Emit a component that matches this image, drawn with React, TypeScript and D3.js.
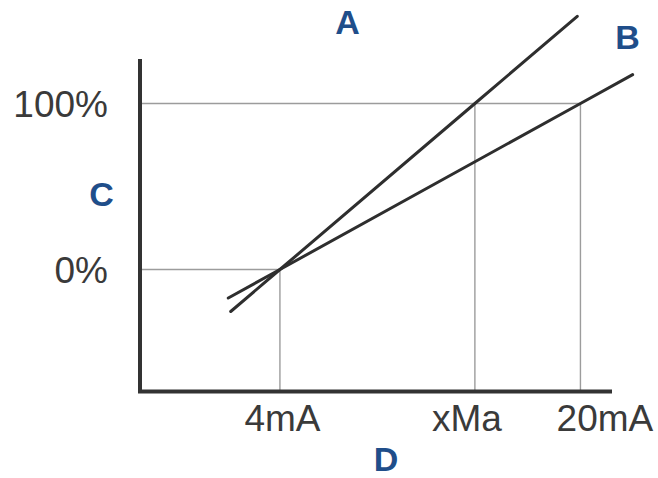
import React from "react";
import * as d3 from "d3";

// Data
const xTickValues = [4, 14.38, 20];
const xTickLabels = ["4mA", "xMa", "20mA"];
const yTickValues = [0, 100];
const yTickLabels = ["0%", "100%"];
const lineA = [
  { x: 1.38, y: -25.3 },
  { x: 4, y: 0 },
  { x: 14.38, y: 100 },
  { x: 19.83, y: 152.5 },
];
const lineB = [
  { x: 1.25, y: -17.2 },
  { x: 4, y: 0 },
  { x: 20, y: 100 },
  { x: 22.78, y: 117.4 },
];
const xDomain = [-3.45, 21.68];
const yDomain = [-73.5, 126.8];

const W = 658;
const H = 478;
const left = 140, right = 612, top = 59, bottom = 391.5;

export default function App() {
  const x = d3.scaleLinear().domain(xDomain).range([left, right]);
  const y = d3.scaleLinear().domain(yDomain).range([bottom, top]);
  const line = d3
    .line<{ x: number; y: number }>()
    .x((d) => x(d.x))
    .y((d) => y(d.y));

  const tickColor = "#3a3a3a";
  const blue = "#1f4e8a";
  const grid = "#9c9c9c";
  const font = "'Liberation Sans', Arial, Helvetica, sans-serif";
  const xNudge = [2.5, -8, 24.5];

  const hGridEnds = [x(4), x(20)];
  const vGridStarts = [y(0), y(100), y(100)];

  return (
    <svg
      width={W}
      height={H}
      style={{ position: "absolute", left: 0, top: 0, background: "#fff" }}
    >
      <rect width={W} height={H} fill="#fff" />
      {yTickValues.map((v, i) => (
        <line
          key={"hg" + i}
          x1={left}
          x2={hGridEnds[i]}
          y1={y(v)}
          y2={y(v)}
          stroke={grid}
          strokeWidth={1.4}
        />
      ))}
      {xTickValues.map((v, i) => (
        <line
          key={"vg" + i}
          x1={x(v)}
          x2={x(v)}
          y1={vGridStarts[i]}
          y2={bottom}
          stroke={grid}
          strokeWidth={1.4}
        />
      ))}
      <path
        d={`M${left},${top}V${bottom}H${right}`}
        fill="none"
        stroke="#333"
        strokeWidth={4}
        strokeLinejoin="miter"
      />
      <path d={line(lineA) || ""} fill="none" stroke="#2e2e2e" strokeWidth={3} strokeLinecap="round" />
      <path d={line(lineB) || ""} fill="none" stroke="#2e2e2e" strokeWidth={3} strokeLinecap="round" />
      {yTickValues.map((v, i) => (
        <text
          key={"yt" + i}
          x={108}
          y={y(v) + 13.5}
          textAnchor="end"
          fontFamily={font}
          fontSize={37}
          fill={tickColor}
        >
          {yTickLabels[i]}
        </text>
      ))}
      {xTickValues.map((v, i) => (
        <text
          key={"xt" + i}
          x={x(v) + xNudge[i]}
          y={431}
          textAnchor="middle"
          fontFamily={font}
          fontSize={37}
          fill={tickColor}
        >
          {xTickLabels[i]}
        </text>
      ))}
      <g fontFamily={font} fontWeight="bold" fontSize={34} fill={blue} textAnchor="middle">
        <text x={347.5} y={34}>A</text>
        <text x={627.5} y={49}>B</text>
        <text x={101.5} y={206}>C</text>
        <text x={386} y={471}>D</text>
      </g>
    </svg>
  );
}
